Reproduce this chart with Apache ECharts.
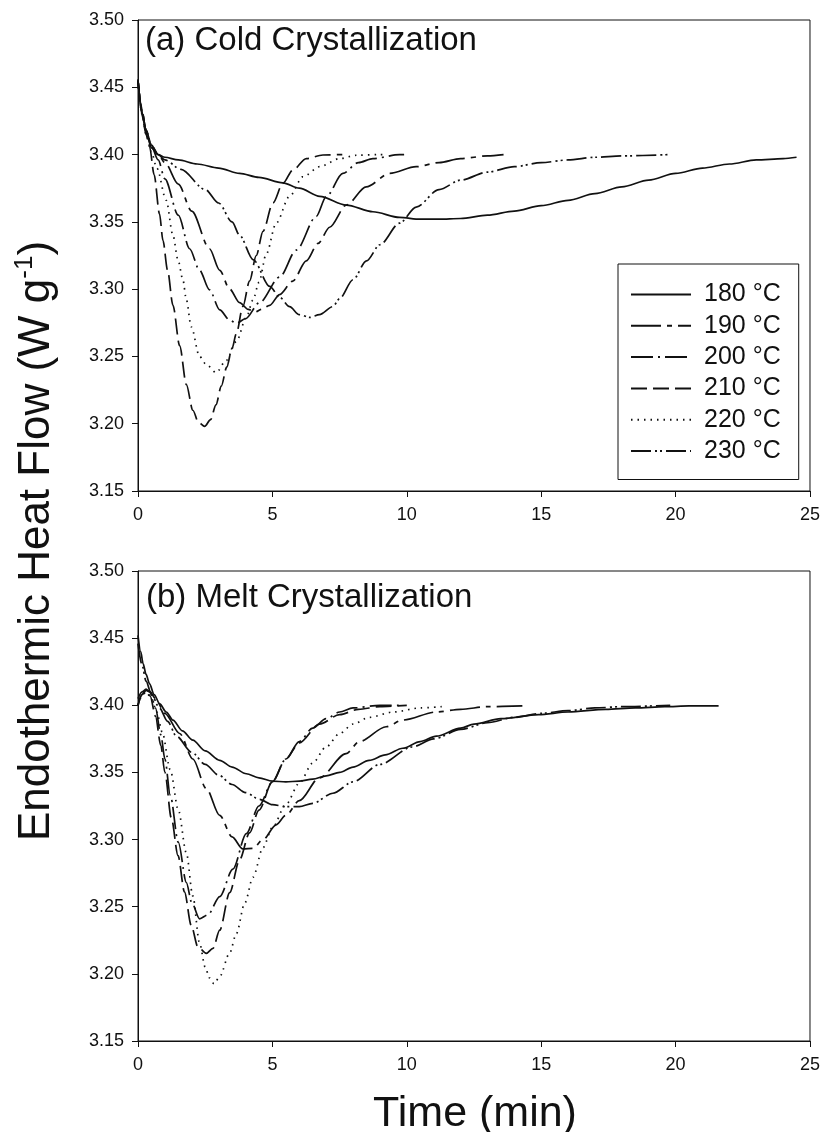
<!DOCTYPE html>
<html>
<head>
<meta charset="utf-8">
<title>Endothermic Heat Flow vs Time</title>
<script src="https://cdn.jsdelivr.net/npm/echarts@6/dist/echarts.min.js"></script>
<style>
  html, body { margin: 0; padding: 0; background: #fff; }
  #chart { width: 823px; height: 1132px; }
</style>
</head>
<body>
<div id="chart"></div>
<script>
// Isothermal DSC traces: [time (min), heat flow (W/g)]
const tempLabels = ['180 °C', '190 °C', '200 °C', '210 °C', '220 °C', '230 °C'];

// (a) Cold crystallization
const cold180 = [[0,3.456],[0.1,3.438],[0.2,3.425],[0.35,3.413],[0.5,3.405],[0.75,3.400],[1.0,3.398],[1.5,3.396],[2.2,3.393],[3.0,3.390],[3.78,3.386],[4.5,3.383],[5.39,3.379],[6.0,3.375],[6.76,3.369],[7.75,3.3625],[8.74,3.3575],[9.73,3.3533],[10.5,3.352],[11.2,3.352],[12.0,3.3525],[13.0,3.355],[14.0,3.358],[15.0,3.362],[16.0,3.366],[17.0,3.371],[18.0,3.376],[19.0,3.381],[20.0,3.386],[21.0,3.390],[22.0,3.393],[23.0,3.396],[24.0,3.397],[24.5,3.398]];
const cold190 = [[0,3.455],[0.15,3.432],[0.3,3.418],[0.5,3.407],[0.75,3.400],[1.0,3.394],[1.5,3.378],[2.0,3.358],[2.66,3.330],[3.04,3.314],[3.41,3.300],[3.78,3.290],[4.1,3.285],[4.35,3.283],[4.6,3.285],[4.9,3.288],[5.27,3.296],[5.76,3.306],[6.26,3.321],[6.7,3.334],[7.13,3.346],[7.75,3.3625],[8.49,3.376],[9.36,3.386],[10.35,3.391],[11.2,3.394],[12.0,3.397],[13.0,3.399],[13.6,3.400]];
const cold200 = [[0,3.455],[0.15,3.432],[0.3,3.418],[0.5,3.406],[0.75,3.396],[1.0,3.382],[1.5,3.355],[1.92,3.330],[2.29,3.314],[2.66,3.2995],[3.04,3.2846],[3.41,3.277],[3.66,3.2746],[4.0,3.278],[4.52,3.290],[5.27,3.309],[5.89,3.329],[6.63,3.354],[7.0,3.3687],[7.62,3.386],[8.2,3.394],[8.74,3.397],[9.73,3.400],[9.9,3.400]];
const cold210 = [[0,3.455],[0.15,3.430],[0.3,3.415],[0.43,3.406],[0.6,3.385],[0.8,3.356],[0.93,3.336],[1.1,3.314],[1.3,3.288],[1.55,3.258],[1.8,3.229],[2.04,3.210],[2.25,3.201],[2.48,3.198],[2.7,3.203],[2.9,3.214],[3.1,3.228],[3.3,3.242],[3.5,3.256],[3.66,3.267],[3.9,3.287],[4.15,3.306],[4.4,3.325],[4.65,3.343],[5.02,3.364],[5.39,3.3786],[5.76,3.3885],[6.26,3.397],[6.88,3.3997],[7.6,3.400]];
const cold220 = [[0,3.455],[0.15,3.430],[0.3,3.415],[0.5,3.402],[0.7,3.390],[1.05,3.366],[1.3,3.340],[1.49,3.3216],[1.67,3.307],[1.8,3.292],[1.98,3.272],[2.29,3.250],[2.54,3.244],[2.91,3.238],[3.28,3.247],[3.66,3.261],[4.03,3.279],[4.28,3.292],[4.5,3.305],[4.77,3.326],[5.14,3.349],[5.64,3.369],[6.14,3.3836],[6.76,3.391],[7.5,3.397],[8.12,3.3995],[9.0,3.400],[9.2,3.400]];
const cold230 = [[0,3.455],[0.15,3.432],[0.3,3.418],[0.5,3.407],[0.75,3.400],[1.0,3.396],[1.6,3.389],[2.5,3.374],[3.0,3.364],[3.5,3.350],[3.78,3.340],[4.28,3.322],[4.9,3.302],[5.27,3.294],[5.64,3.287],[6.0,3.281],[6.4,3.279],[6.75,3.281],[7.25,3.287],[7.5,3.293],[8.0,3.307],[8.5,3.321],[9.0,3.333],[9.73,3.349],[10.35,3.361],[11.2,3.374],[12.0,3.381],[13.0,3.387],[14.0,3.391],[15.0,3.394],[16.0,3.396],[17.0,3.398],[18.0,3.399],[19.8,3.400]];

// (b) Melt crystallization
const melt180 = [[0,3.452],[0.1,3.440],[0.19,3.431],[0.3,3.423],[0.43,3.416],[0.6,3.408],[0.81,3.401],[1.05,3.395],[1.3,3.389],[1.65,3.381],[2.04,3.374],[2.5,3.366],[3.04,3.359],[3.5,3.354],[4.03,3.349],[4.5,3.346],[5.0,3.3435],[5.5,3.343],[6.0,3.3435],[6.5,3.345],[7.0,3.3475],[7.5,3.350],[8.0,3.354],[8.6,3.359],[9.2,3.363],[9.85,3.368],[10.5,3.373],[11.1,3.377],[12.0,3.383],[12.5,3.386],[13.5,3.390],[14.9,3.393],[16.0,3.395],[17.4,3.397],[18.5,3.398],[19.6,3.399],[20.5,3.3995],[21.6,3.3995]];
const melt190 = [[0,3.400],[0.15,3.408],[0.3,3.411],[0.45,3.410],[0.65,3.405],[1.0,3.394],[1.55,3.379],[2.04,3.360],[2.54,3.338],[3.04,3.318],[3.5,3.302],[3.9,3.293],[4.28,3.2935],[4.65,3.300],[5.14,3.311],[5.5,3.318],[6.0,3.329],[6.75,3.346],[7.74,3.364],[8.24,3.373],[9.23,3.384],[9.85,3.389],[11.1,3.395],[12.0,3.397],[13.0,3.399],[14.3,3.3995]];
const melt200 = [[0,3.405],[0.15,3.410],[0.3,3.412],[0.45,3.410],[0.65,3.398],[0.85,3.378],[1.0,3.360],[1.2,3.333],[1.5,3.298],[1.8,3.268],[2.0,3.253],[2.29,3.241],[2.6,3.244],[3.04,3.2575],[3.53,3.278],[4.03,3.3045],[4.5,3.325],[5.0,3.343],[5.5,3.360],[6.0,3.373],[6.5,3.383],[7.0,3.390],[7.5,3.395],[8.0,3.398],[9.0,3.400],[9.8,3.400]];
const melt210 = [[0,3.400],[0.15,3.408],[0.3,3.411],[0.45,3.407],[0.65,3.392],[0.85,3.370],[1.0,3.350],[1.24,3.316],[1.49,3.288],[1.73,3.261],[1.98,3.236],[2.23,3.220],[2.54,3.2153],[2.79,3.219],[3.04,3.2325],[3.41,3.2605],[3.78,3.285],[4.15,3.305],[4.5,3.322],[5.0,3.343],[5.5,3.360],[6.0,3.372],[6.75,3.386],[7.5,3.393],[8.2,3.397],[9.0,3.399],[10.0,3.400]];
const melt220 = [[0,3.400],[0.15,3.407],[0.3,3.410],[0.5,3.405],[0.7,3.395],[0.9,3.380],[1.2,3.352],[1.5,3.322],[1.8,3.290],[2.04,3.258],[2.29,3.223],[2.5,3.205],[2.66,3.197],[2.83,3.1925],[3.04,3.198],[3.41,3.2155],[3.66,3.230],[3.97,3.2526],[4.28,3.272],[4.65,3.294],[5.0,3.309],[5.5,3.326],[6.0,3.342],[6.5,3.357],[7.0,3.369],[7.5,3.379],[8.0,3.386],[8.6,3.391],[9.5,3.395],[10.5,3.398],[11.3,3.399]];
const melt230 = [[0,3.446],[0.15,3.430],[0.3,3.418],[0.5,3.408],[0.8,3.398],[1.1,3.388],[1.43,3.377],[2.0,3.365],[2.5,3.356],[3.0,3.348],[3.5,3.341],[4.0,3.335],[4.52,3.330],[5.0,3.326],[5.5,3.3245],[6.0,3.3245],[6.5,3.327],[7.25,3.3345],[8.0,3.343],[9.0,3.356],[10.2,3.369],[11.0,3.375],[12.0,3.382],[13.0,3.387],[14.0,3.391],[15.0,3.394],[16.0,3.396],[17.0,3.398],[18.0,3.399],[19.8,3.400]];

const coldSets = [cold180, cold190, cold200, cold210, cold220, cold230];
const meltSets = [melt180, melt190, melt200, melt210, melt220, melt230];

// Dash pattern per temperature: solid, long-short, dash-dot, long dash, dotted, dash-dot-dot
const dashTypes = ['solid', [30, 6, 5, 6], [22, 5, 2, 5], [16, 6], [1.5, 5], [20, 4, 2, 3, 2, 4]];

const FONT = "'Liberation Sans', Arial, Helvetica, sans-serif";
const INK = '#111';

function makeAxes(gridIndex) {
  const x = {
    type: 'value', gridIndex: gridIndex, min: 0, max: 25, interval: 5,
    axisLine: { show: true, onZero: false, lineStyle: { color: INK, width: 1 } },
    axisTick: { show: true, inside: false, length: 6, lineStyle: { color: INK } },
    axisLabel: { color: INK, fontSize: 18, fontFamily: FONT, margin: 15 },
    splitLine: { show: false }
  };
  const y = {
    type: 'value', gridIndex: gridIndex, min: 3.15, max: 3.50, interval: 0.05,
    axisLine: { show: true, onZero: false, lineStyle: { color: INK, width: 1 } },
    axisTick: { show: true, inside: false, length: 6, lineStyle: { color: INK } },
    axisLabel: { color: INK, fontSize: 18, fontFamily: FONT, margin: 14,
      formatter: function (v) { return v.toFixed(2); } },
    splitLine: { show: false }
  };
  return { x: x, y: y };
}

const axesA = makeAxes(0);
const axesB = makeAxes(1);

const series = [];
[coldSets, meltSets].forEach(function (sets, panel) {
  sets.forEach(function (data, i) {
    series.push({
      name: tempLabels[i],
      type: 'line',
      xAxisIndex: panel,
      yAxisIndex: panel,
      data: data,
      symbol: 'none',
      showSymbol: false,
      smooth: 0.3,
      smoothMonotone: 'x',
      lineStyle: { color: INK, width: 1.7, type: dashTypes[i] },
      itemStyle: { color: INK },
      emphasis: { disabled: true },
      silent: true
    });
  });
});

const chart = echarts.init(document.getElementById('chart'), null, { renderer: 'canvas' });
chart.setOption({
  animation: false,
  backgroundColor: '#fff',
  grid: [
    { left: 138, top: 20, width: 674, height: 471, show: true, borderColor: INK, borderWidth: 1, backgroundColor: 'transparent' },
    { left: 138, top: 571, width: 674, height: 470, show: true, borderColor: INK, borderWidth: 1, backgroundColor: 'transparent' }
  ],
  xAxis: [axesA.x, axesB.x],
  yAxis: [axesA.y, axesB.y],
  legend: {
    data: tempLabels,
    orient: 'vertical',
    left: 618,
    top: 264,
    padding: [18, 18, 16, 12],
    itemWidth: 60,
    itemHeight: 2,
    itemGap: 6.3,
    selectedMode: false,
    backgroundColor: '#fff',
    borderColor: INK,
    borderWidth: 1,
    itemStyle: { opacity: 0 },
    textStyle: { color: INK, fontSize: 25, fontFamily: FONT, padding: [0, 0, 0, 8] }
  },
  graphic: [
    {
      type: 'text', x: 145, y: 41, silent: true,
      style: { text: '(a) Cold Crystallization', fill: INK, fontSize: 33, fontFamily: FONT,
        textAlign: 'left', textVerticalAlign: 'middle' }
    },
    {
      type: 'text', x: 146, y: 598, silent: true,
      style: { text: '(b) Melt Crystallization', fill: INK, fontSize: 33, fontFamily: FONT,
        textAlign: 'left', textVerticalAlign: 'middle' }
    },
    {
      type: 'text', x: 475, y: 1114, silent: true,
      style: { text: 'Time (min)', fill: INK, fontSize: 43, fontFamily: FONT,
        textAlign: 'center', textVerticalAlign: 'middle' }
    },
    {
      type: 'text', x: 37, y: 541, rotation: Math.PI / 2, silent: true,
      style: {
        text: 'Endothermic Heat Flow (W g{sup|-1})',
        fill: INK, fontSize: 44, fontFamily: FONT, lineHeight: 50,
        textAlign: 'center', textVerticalAlign: 'middle',
        rich: { sup: { fontSize: 26, fontFamily: FONT, fill: INK, verticalAlign: 'top', lineHeight: 26 } }
      }
    }
  ],
  series: series
});
</script>
</body>
</html>
